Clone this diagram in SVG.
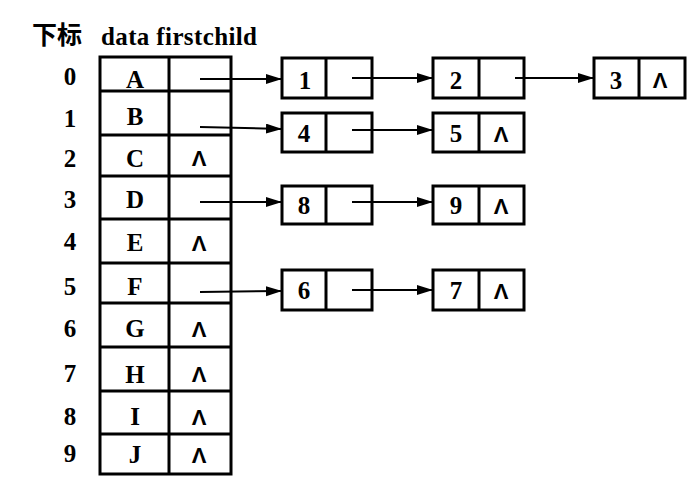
<svg xmlns="http://www.w3.org/2000/svg" width="696" height="496" viewBox="0 0 696 496">
<defs>
<marker id="ah" markerUnits="userSpaceOnUse" markerWidth="18" markerHeight="12" refX="16" refY="5" orient="auto">
<path d="M0,0 L16,5 L0,10 Z" fill="#000"/>
</marker>
<style>
.t{font-family:"Liberation Serif","Noto Sans CJK SC",serif;font-size:25px;font-weight:bold;fill:#000;text-anchor:middle}
.h{font-family:"Liberation Serif","Noto Sans CJK SC",serif;font-size:25px;font-weight:bold;fill:#000}
.k{font-family:"Noto Sans CJK SC",sans-serif;font-size:25px;font-weight:bold;fill:#000}
.n{font-family:"Liberation Sans",sans-serif;font-size:22px;font-weight:bold;fill:#000;text-anchor:middle}
.b{fill:#fff;stroke:#000;stroke-width:3}
.l{stroke:#000;stroke-width:3;fill:none}
.c{stroke:#000;stroke-width:2;fill:none;marker-end:url(#ah)}
</style>
</defs>
<rect width="696" height="496" fill="#fff"/>
<g id="header">
<text class="k" x="32" y="44">下标</text>
<text class="h" x="101" y="45" textLength="156" lengthAdjust="spacing">data firstchild</text>
</g>
<g id="indices">
<text class="t" x="70" y="85">0</text>
<text class="t" x="70" y="127">1</text>
<text class="t" x="70" y="167">2</text>
<text class="t" x="70" y="208">3</text>
<text class="t" x="70" y="250">4</text>
<text class="t" x="70" y="295">5</text>
<text class="t" x="70" y="337">6</text>
<text class="t" x="70" y="382">7</text>
<text class="t" x="70" y="425">8</text>
<text class="t" x="70" y="462">9</text>
</g>
<g id="table">
<rect class="b" x="100" y="57" width="131" height="417"/>
<line class="l" x1="169" y1="57" x2="169" y2="474"/>
<line class="l" x1="100" y1="91" x2="231" y2="91"/>
<line class="l" x1="100" y1="135" x2="231" y2="135"/>
<line class="l" x1="100" y1="176" x2="231" y2="176"/>
<line class="l" x1="100" y1="219" x2="231" y2="219"/>
<line class="l" x1="100" y1="263" x2="231" y2="263"/>
<line class="l" x1="100" y1="303" x2="231" y2="303"/>
<line class="l" x1="100" y1="347" x2="231" y2="347"/>
<line class="l" x1="100" y1="391" x2="231" y2="391"/>
<line class="l" x1="100" y1="434" x2="231" y2="434"/>
<text class="t" x="135" y="88">A</text>
<text class="t" x="135" y="125">B</text>
<text class="t" x="135" y="167">C</text>
<text class="t" x="135" y="208">D</text>
<text class="t" x="135" y="251">E</text>
<text class="t" x="135" y="295">F</text>
<text class="t" x="135" y="337">G</text>
<text class="t" x="135" y="383">H</text>
<text class="t" x="135" y="425">I</text>
<text class="t" x="135" y="463">J</text>
<text class="n" x="199" y="166">Λ</text>
<text class="n" x="199" y="251">Λ</text>
<text class="n" x="199" y="337">Λ</text>
<text class="n" x="199" y="382">Λ</text>
<text class="n" x="199" y="425">Λ</text>
<text class="n" x="199" y="463">Λ</text>
</g>
<g id="node1"><rect class="b" x="282" y="58" width="90" height="40"/><line class="l" x1="326" y1="58" x2="326" y2="98"/><text class="t" x="305" y="89">1</text></g>
<g id="node2"><rect class="b" x="433" y="58" width="91" height="40"/><line class="l" x1="479" y1="58" x2="479" y2="98"/><text class="t" x="456" y="89">2</text></g>
<g id="node3"><rect class="b" x="594" y="58" width="91" height="40"/><line class="l" x1="639" y1="58" x2="639" y2="98"/><text class="t" x="616" y="89">3</text><text class="n" x="660" y="88">Λ</text></g>
<g id="node4"><rect class="b" x="282" y="113" width="90" height="39"/><line class="l" x1="326" y1="113" x2="326" y2="152"/><text class="t" x="304" y="142">4</text></g>
<g id="node5"><rect class="b" x="433" y="113" width="91" height="39"/><line class="l" x1="479" y1="113" x2="479" y2="152"/><text class="t" x="456" y="142">5</text><text class="n" x="501" y="142">Λ</text></g>
<g id="node8"><rect class="b" x="282" y="186" width="90" height="38"/><line class="l" x1="326" y1="186" x2="326" y2="224"/><text class="t" x="304" y="214">8</text></g>
<g id="node9"><rect class="b" x="433" y="186" width="91" height="38"/><line class="l" x1="479" y1="186" x2="479" y2="224"/><text class="t" x="456" y="214">9</text><text class="n" x="501" y="214">Λ</text></g>
<g id="node6"><rect class="b" x="282" y="270" width="90" height="40"/><line class="l" x1="326" y1="270" x2="326" y2="310"/><text class="t" x="304" y="299">6</text></g>
<g id="node7"><rect class="b" x="433" y="270" width="91" height="40"/><line class="l" x1="479" y1="270" x2="479" y2="310"/><text class="t" x="456" y="299">7</text><text class="n" x="501" y="299">Λ</text></g>
<g id="connectors">
<line class="c" x1="200" y1="79" x2="282" y2="79"/>
<line class="c" x1="200" y1="127" x2="282" y2="129"/>
<line class="c" x1="200" y1="202" x2="282" y2="202"/>
<line class="c" x1="200" y1="292" x2="282" y2="291"/>
<line class="c" x1="352" y1="78" x2="433" y2="78"/>
<line class="c" x1="515" y1="78" x2="594" y2="78"/>
<line class="c" x1="352" y1="130" x2="433" y2="130"/>
<line class="c" x1="352" y1="202" x2="433" y2="202"/>
<line class="c" x1="352" y1="290" x2="433" y2="290"/>
</g>
</svg>
